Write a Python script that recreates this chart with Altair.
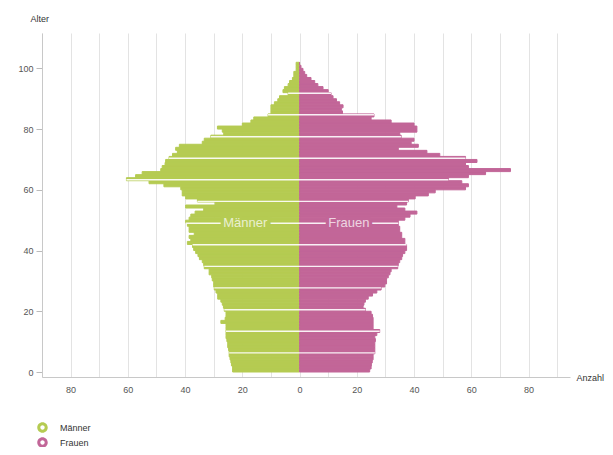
import altair as alt
import pandas as pd

# Altersjahre 0..101
alter = list(range(0, 102))

maenner = [
    23.4, 23.4, 23.8, 24.0, 24.3, 24.6, 24.6, 24.8, 25.1, 25.1,   # 0-9
    25.4, 25.7, 25.7, 25.7, 25.7, 25.7, 27.5, 26.0, 25.7, 25.7,   # 10-19
    26.3, 26.6, 27.0, 27.5, 28.6, 28.6, 29.2, 29.8, 30.0, 30.0,   # 20-29
    30.5, 30.7, 31.6, 31.6, 33.3, 33.5, 34.0, 35.0, 35.5, 36.3,   # 30-39
    37.0, 37.4, 39.2, 38.0, 38.6, 36.8, 38.6, 38.6, 39.2, 39.8,   # 40-49
    38.6, 38.0, 36.5, 33.5, 39.8, 29.5, 35.7, 39.8, 41.0, 41.0,   # 50-59
    41.5, 47.4, 52.6, 60.5, 57.3, 55.0, 48.5, 48.0, 47.0, 46.8,   # 60-69
    45.6, 44.4, 42.7, 43.3, 42.0, 34.0, 33.3, 31.0, 26.5, 27.0,   # 70-79
    28.7, 20.0, 17.0, 16.0, 11.0, 10.0, 10.0, 10.0, 8.8, 7.6,     # 80-89
    7.0, 4.0, 5.8, 5.3, 4.0, 3.5, 2.5, 2.0, 2.0, 1.2,             # 90-99
    1.2, 1.2,                                                     # 100-101
]

frauen = [
    24.5, 25.0, 25.1, 25.4, 25.7, 25.7, 26.3, 26.3, 26.3, 26.3,   # 0-9
    26.5, 26.3, 27.0, 28.0, 25.7, 25.7, 25.7, 25.7, 25.5, 25.0,   # 10-19
    23.0, 22.2, 22.5, 23.0, 24.0, 25.5, 27.0, 28.5, 29.8, 30.4,   # 20-29
    30.4, 31.0, 31.6, 32.0, 34.3, 34.5, 35.0, 35.7, 36.0, 36.8,   # 30-39
    37.4, 37.4, 36.8, 36.8, 35.7, 35.7, 35.0, 35.0, 34.5, 34.5,   # 40-49
    36.8, 38.6, 41.0, 36.8, 34.0, 37.4, 38.0, 40.4, 45.0, 47.4,   # 50-59
    58.0, 59.0, 56.7, 52.0, 59.0, 65.0, 73.7, 59.0, 58.0, 62.0,   # 60-69
    58.0, 49.0, 44.5, 34.5, 41.5, 39.0, 40.0, 35.5, 35.0, 41.0,   # 70-79
    41.0, 40.0, 32.0, 25.0, 26.0, 15.0, 14.6, 15.2, 14.0, 12.9,   # 80-89
    11.7, 11.0, 10.0, 8.2, 6.4, 5.3, 4.0, 2.5, 1.8, 1.2,          # 90-99
    0.5, 0.0,                                                     # 100-101
]

geschlechter = ["Männer", "Frauen"]
farben = ["#b5cb52", "#c26698"]

# helle Trennlinien quer durch die Balken (Alter)
trenn_alter = [6.3, 13.4, 20.5, 27.7, 34.8, 41.9, 49.0, 56.2, 63.3, 70.4, 77.5, 84.7, 91.8]

# Beschriftung im Diagramm
anno_text = ["Männer", "Frauen"]
anno_x = [-19.0, 17.2]
anno_alter = [49.0, 49.0]

rows = []
for a, m, f in zip(alter, maenner, frauen):
    rows.append({"Alter": a, "AlterBis": a + 1, "Anzahl": -m, "Null": 0, "Geschlecht": "Männer"})
    rows.append({"Alter": a, "AlterBis": a + 1, "Anzahl": f, "Null": 0, "Geschlecht": "Frauen"})
df = pd.DataFrame(rows)

sep_df = pd.DataFrame({
    "Alter": trenn_alter,
    "Von": [-maenner[int(a)] for a in trenn_alter],
    "Bis": [frauen[int(a)] for a in trenn_alter],
})

FONT = "Liberation Sans"
x_scale = alt.Scale(domain=[-90, 94.5], nice=False, zero=False)
y_scale = alt.Scale(domain=[0, 110], nice=False)
c_scale = alt.Scale(domain=geschlechter, range=farben)

x_axis = alt.Axis(
    values=list(range(-90, 91, 10)),
    labelExpr="(datum.value % 20 == 0) ? ('' + abs(datum.value)) : ''",
    labelOverlap=False, labelFlush=False, labelBound=False,
    grid=True, gridColor="#e3e3e3", gridWidth=1,
    domainColor="#c8c8c8", ticks=False,
    labelPadding=8, labelFontSize=9, labelColor="#555555", labelFont=FONT,
    title="Anzahl", titleAngle=0, titleX=534, titleY=0, titleAlign="left",
    titleBaseline="middle", titleFontSize=9, titleFontWeight="normal",
    titleColor="#333333", titleFont=FONT,
)
y_axis = alt.Axis(
    values=[0, 20, 40, 60, 80, 100], grid=False,
    domainColor="#c8c8c8", tickColor="#bbbbbb", tickSize=6,
    labelPadding=3, labelFontSize=9, labelColor="#555555", labelFont=FONT,
    title="Alter", titleAngle=0, titleX=-12, titleY=-15, titleAlign="left",
    titleBaseline="middle", titleFontSize=9, titleFontWeight="normal",
    titleColor="#333333", titleFont=FONT,
)

RING = ("M -1 0 A 1 1 0 1 1 1 0 A 1 1 0 1 1 -1 0 Z "
        "M -0.42 0 A 0.42 0.42 0 1 0 0.42 0 A 0.42 0.42 0 1 0 -0.42 0 Z")

bars = alt.Chart(df).mark_bar(orient="horizontal", strokeWidth=1).encode(
    x=alt.X("Anzahl:Q", scale=x_scale, axis=x_axis),
    x2="Null:Q",
    y=alt.Y("Alter:Q", scale=y_scale, axis=y_axis),
    y2="AlterBis:Q",
    stroke=alt.Stroke("Geschlecht:N", scale=c_scale, legend=None),
    fill=alt.Fill(
        "Geschlecht:N",
        scale=c_scale,
        legend=alt.Legend(
            title=None, orient="none", legendX=-5, legendY=389,
            symbolType=RING, symbolSize=110, symbolStrokeWidth=0,
            labelFontSize=9, labelColor="#333333", labelFont=FONT,
            labelOffset=12, rowPadding=4, padding=0,
        ),
    ),
)

seps = alt.Chart(sep_df).mark_rule(color="white", opacity=0.9, strokeWidth=1.4).encode(
    x=alt.X("Von:Q", scale=x_scale, axis=x_axis),
    x2="Bis:Q",
    y=alt.Y("Alter:Q", scale=y_scale, axis=y_axis),
)

anno_df = pd.DataFrame({"Text": anno_text, "X": anno_x, "Alter": anno_alter,
                        "Geschlecht": geschlechter})
halo = alt.Chart(anno_df).mark_text(
    fontSize=13, font=FONT, align="center", baseline="middle", strokeWidth=7
).encode(
    x=alt.X("X:Q", scale=x_scale, axis=x_axis),
    y=alt.Y("Alter:Q", scale=y_scale, axis=y_axis),
    text="Text:N",
    fill=alt.Fill("Geschlecht:N", scale=c_scale, legend=None),
    stroke=alt.Stroke("Geschlecht:N", scale=c_scale, legend=None),
)
texts = alt.Chart(anno_df).mark_text(
    color="white", opacity=0.72, fontSize=13, font=FONT, align="center", baseline="middle"
).encode(
    x=alt.X("X:Q", scale=x_scale, axis=x_axis),
    y=alt.Y("Alter:Q", scale=y_scale, axis=y_axis),
    text="Text:N",
)

chart = alt.layer(bars, seps, halo, texts).properties(
    width=528, height=344,
    autosize=alt.AutoSizeParams(type="none"),
    padding={"left": 34, "top": 25, "right": 35, "bottom": 70},
).configure(font=FONT).configure_view(stroke=None)

chart.save("out.html", embed_options={"renderer": "svg", "actions": False})
